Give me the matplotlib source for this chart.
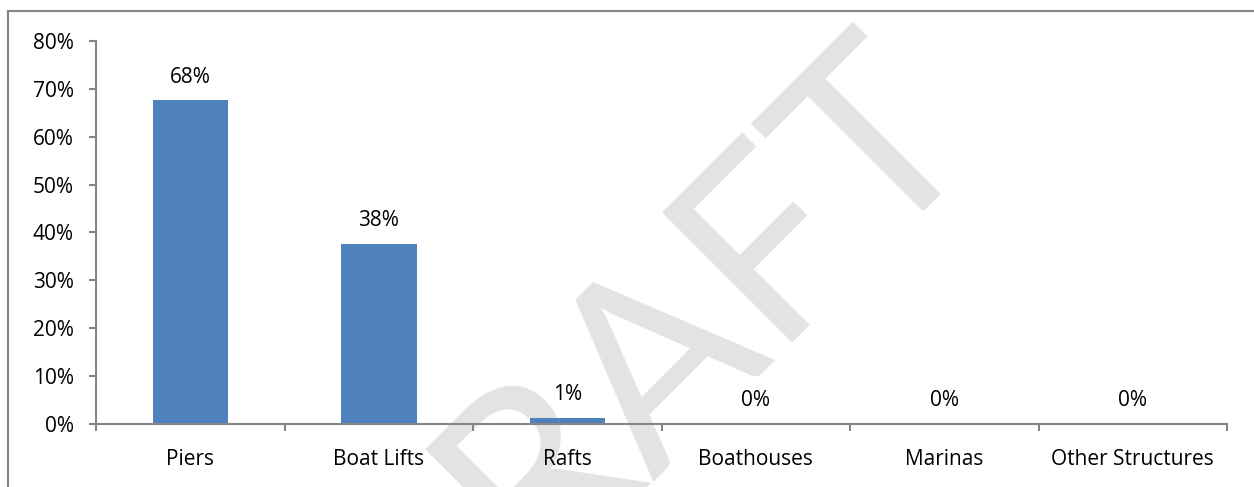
import matplotlib.pyplot as plt
from matplotlib.ticker import PercentFormatter
from matplotlib.lines import Line2D

plt.rcParams['font.family'] = ['Open Sans', 'DejaVu Sans']

# datos
categorias = ['Piers', 'Boat Lifts', 'Rafts', 'Boathouses', 'Marinas', 'Other Structures']
valores = [0.676, 0.376, 0.0125, 0.0, 0.0, 0.0]
etiquetas = ['68%', '38%', '1%', '0%', '0%', '0%']

gris = '#868686'
azul = '#4F81BD'

fig = plt.figure(figsize=(12.54, 4.87), dpi=100)
ax = fig.add_axes([0.0766, 0.1294, 0.9019, 0.7864])
ax.patch.set_visible(False)

x = range(len(categorias))
barras = ax.bar(x, valores, width=0.4, color=azul, zorder=2)

# etiquetas de valor encima de cada barra
for b, txt in zip(barras, etiquetas):
    ax.annotate(txt, (b.get_x() + b.get_width() / 2, b.get_height()),
                xytext=(0, 9), textcoords='offset points',
                ha='center', va='bottom', fontsize=15)

ax.set_xlim(-0.5, len(categorias) - 0.5)
ax.set_ylim(0, 0.8)
ax.set_yticks([i / 10 for i in range(9)])
ax.yaxis.set_major_formatter(PercentFormatter(1.0, decimals=0))

# ticks del eje x entre categorias, etiquetas centradas
ax.set_xticks([i - 0.5 for i in range(len(categorias) + 1)])
ax.set_xticklabels([])
ax.set_xticks(list(x), minor=True)
ax.set_xticklabels(categorias, minor=True)
ax.tick_params(axis='x', which='minor', length=0, pad=18, labelsize=15)
ax.tick_params(axis='x', which='major', length=5, width=1.5, color=gris)
ax.tick_params(axis='y', length=5, width=1.5, color=gris, labelsize=15, pad=11)

for lado in ['top', 'right']:
    ax.spines[lado].set_visible(False)
for lado in ['left', 'bottom']:
    ax.spines[lado].set_color(gris)
    ax.spines[lado].set_linewidth(1.5)

# borde del grafico (solo arriba e izquierda visibles)
fig.add_artist(Line2D([0.006, 1.0], [0.978, 0.978], color=gris, lw=1.5))
fig.add_artist(Line2D([0.006, 0.006], [0.0, 0.978], color=gris, lw=1.5))

# marca de agua
fig.text(0.507, 0.235, 'DRAFT', fontsize=185, color='#E3E3E3',
         rotation=45, rotation_mode='anchor', ha='center', va='center',
         family='Lato', zorder=-1)

plt.savefig('out.png', dpi=100)
